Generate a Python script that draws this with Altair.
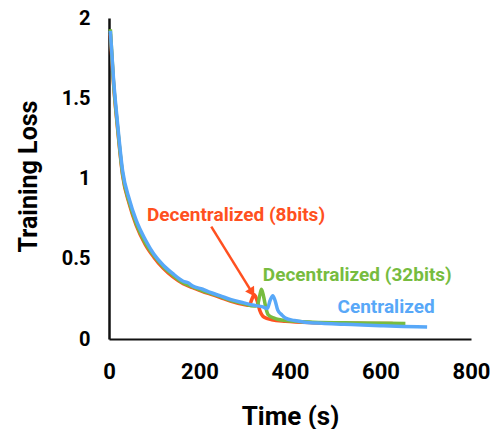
import altair as alt
import pandas as pd

# Centralized (blue)
cen_t = [3, 10, 19, 30, 45, 60, 80, 99, 120, 140, 164, 175, 185, 207, 224, 245, 270, 298, 320, 340, 350, 356, 362, 367, 373, 382, 390, 410, 433, 470, 520, 560, 600, 650, 703]
cen_y = [1.92, 1.62, 1.34, 1.05, 0.87, 0.74, 0.62, 0.53, 0.46, 0.41, 0.36, 0.35, 0.33, 0.31, 0.29, 0.27, 0.245, 0.225, 0.21, 0.20, 0.19, 0.24, 0.27, 0.24, 0.18, 0.15, 0.13, 0.115, 0.105, 0.098, 0.092, 0.087, 0.083, 0.078, 0.074]

# Decentralized (8bits) (orange)
d8_t = [3, 10, 19, 30, 45, 60, 80, 99, 120, 140, 164, 185, 207, 224, 245, 270, 298, 310, 316, 321, 326, 333, 343, 360, 390, 450, 550, 627]
d8_y = [1.90, 1.59, 1.31, 1.02, 0.84, 0.71, 0.59, 0.51, 0.44, 0.39, 0.345, 0.32, 0.295, 0.28, 0.26, 0.235, 0.215, 0.21, 0.25, 0.275, 0.25, 0.18, 0.135, 0.12, 0.11, 0.102, 0.098, 0.096]

# Decentralized (32bits) (green)
d32_t = [3, 10, 19, 30, 45, 60, 80, 99, 120, 140, 164, 185, 207, 224, 245, 270, 298, 320, 328, 333, 337, 342, 347, 352, 365, 390, 450, 550, 655]
d32_y = [1.93, 1.60, 1.32, 1.03, 0.85, 0.72, 0.60, 0.52, 0.45, 0.40, 0.35, 0.325, 0.30, 0.285, 0.265, 0.24, 0.22, 0.205, 0.21, 0.27, 0.31, 0.26, 0.19, 0.15, 0.13, 0.115, 0.105, 0.10, 0.096]

x_ticks = [0, 200, 400, 600, 800]
y_ticks = [0, 0.5, 1, 1.5, 2]

labels = ["Decentralized (8bits)", "Decentralized (32bits)", "Centralized"]
label_t = [84, 340, 505]
label_y = [0.734, 0.364, 0.16]
colors = ["#FF5020", "#77BC3F", "#58A8F8"]

arrow_t = [226]
arrow_y = [0.70]
arrow_t2 = [316]
arrow_y2 = [0.29]

FONT = "Roboto"

xscale = alt.Scale(domain=[0, 800], nice=False, zero=True)
yscale = alt.Scale(domain=[0, 2], nice=False)

def line(t, y, color):
    df = pd.DataFrame({"t": t, "y": y})
    return alt.Chart(df).mark_line(color=color, strokeWidth=3.5, interpolate="monotone").encode(
        x=alt.X("t:Q", scale=xscale),
        y=alt.Y("y:Q", scale=yscale),
    )

base_df = pd.DataFrame({"t": [0], "y": [0]})
axes = alt.Chart(base_df).mark_point(opacity=0).encode(
    x=alt.X("t:Q", scale=xscale, axis=alt.Axis(
        title="Time (s)", values=x_ticks, grid=False, ticks=False, format="d",
        domainColor="#111111", domainWidth=2, labelFont=FONT, labelFontWeight="bold",
        labelFontSize=22, labelColor="black", labelPadding=22, labelFlush=False,
        titleFont=FONT, titleFontSize=26, titleFontWeight="bold", titleColor="black",
        titleY=85, titleBaseline="alphabetic")),
    y=alt.Y("y:Q", scale=yscale, axis=alt.Axis(
        title="Training Loss", values=y_ticks, grid=False, ticks=False, format="~g",
        domainColor="#111111", domainWidth=2.5, labelFont=FONT, labelFontWeight="bold",
        labelFontSize=20, labelColor="black", labelPadding=19, labelFlush=False,
        titleFont=FONT, titleFontSize=25, titleFontWeight="bold", titleColor="black",
        titleAngle=270, titleX=-81, titleY=158, titleAlign="center", titleBaseline="middle")),
)

ann_df = pd.DataFrame({"t": label_t, "y": label_y, "label": labels, "color": colors})
ann = alt.Chart(ann_df).mark_text(align="left", baseline="alphabetic", font=FONT,
                                  fontWeight="bold", fontSize=19).encode(
    x=alt.X("t:Q", scale=xscale),
    y=alt.Y("y:Q", scale=yscale),
    text="label:N",
    color=alt.Color("color:N", scale=None),
)

arr_df = pd.DataFrame({"t": arrow_t, "y": arrow_y, "t2": arrow_t2, "y2": arrow_y2})
arrow_line = alt.Chart(arr_df).mark_rule(color="#FF5020", strokeWidth=2.5).encode(
    x=alt.X("t:Q", scale=xscale), y=alt.Y("y:Q", scale=yscale), x2="t2:Q", y2="y2:Q")
arrow_head = alt.Chart(arr_df).mark_point(shape="triangle-up", filled=True, color="#FF5020",
                                          size=110, angle=148, opacity=1).encode(
    x=alt.X("t2:Q", scale=xscale), y=alt.Y("y2:Q", scale=yscale))

chart = alt.layer(
    axes,
    line(d8_t, d8_y, colors[0]),
    line(d32_t, d32_y, colors[1]),
    line(cen_t, cen_y, colors[2]),
    arrow_line, arrow_head, ann,
).properties(
    width=362, height=321,
    autosize=alt.AutoSizeParams(type="none"),
    padding={"left": 101, "top": 10, "right": 19, "bottom": 90},
).configure_view(stroke=None)

chart.save("out.html", embed_options={"renderer": "svg", "actions": False})
